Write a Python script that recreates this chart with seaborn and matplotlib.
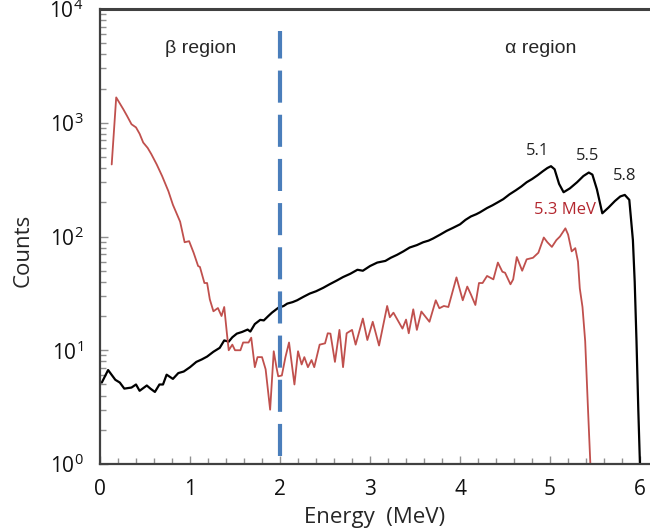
import matplotlib
matplotlib.use("Agg")
import matplotlib.pyplot as plt
import seaborn as sns
import pandas as pd
from matplotlib.ticker import LogLocator, FixedLocator, MultipleLocator

sns.set_style("ticks")
plt.rcParams['font.family'] = ['Open Sans', 'DejaVu Sans']
plt.rcParams['mathtext.fontset'] = 'custom'
plt.rcParams['mathtext.rm'] = 'Open Sans'
plt.rcParams['mathtext.it'] = 'Open Sans:italic'

# ---- data ----
black_energy = [0.02, 0.09, 0.17, 0.22, 0.27, 0.35, 0.40, 0.44, 0.52, 0.56, 0.61, 0.66, 0.70,
                0.74, 0.81, 0.87, 0.93, 1.00, 1.07, 1.13, 1.19, 1.26, 1.33, 1.38, 1.43, 1.47,
                1.52, 1.58, 1.64, 1.67, 1.72, 1.78, 1.82, 1.87, 1.91, 1.98, 2.04, 2.08, 2.14,
                2.19, 2.26, 2.33, 2.40, 2.48, 2.55, 2.63, 2.70, 2.78, 2.86, 2.92, 3.00, 3.08,
                3.17, 3.23, 3.30, 3.37, 3.44, 3.52, 3.59, 3.65, 3.70, 3.78, 3.85, 3.92, 4.00,
                4.06, 4.12, 4.18, 4.22, 4.30, 4.36, 4.42, 4.48, 4.55, 4.62, 4.68, 4.74, 4.80,
                4.86, 4.92, 4.97, 5.01, 5.05, 5.10, 5.15, 5.22, 5.30, 5.37, 5.43, 5.47, 5.52,
                5.58, 5.65, 5.72, 5.78, 5.83, 5.88, 5.92, 5.94, 5.96, 5.98, 6.00]
black_counts = [5.2, 6.7, 5.5, 5.2, 4.6, 4.7, 5.0, 4.4, 4.9, 4.6, 4.3, 5.0, 5.0,
                6.1, 5.6, 6.3, 6.5, 7.1, 7.9, 8.3, 8.8, 9.7, 10.5, 12.2, 11.9, 13.0,
                14.0, 14.5, 15.2, 14.6, 17.0, 18.5, 18.3, 20.0, 21.4, 23.6, 24.5, 25.7, 26.5,
                27.5, 29.5, 31.5, 33.0, 35.4, 38.0, 41.0, 44.0, 47.0, 51.0, 50.0, 55.0, 59.0,
                61.0, 65.0, 69.0, 74.0, 80.0, 84.0, 89.0, 92.0, 96.0, 104, 112, 119, 128,
                140, 150, 157, 163, 178, 188, 200, 213, 235, 255, 275, 300, 320,
                345, 375, 400, 415, 390, 290, 245, 265, 300, 340, 365, 350, 260,
                160, 180, 205, 225, 232, 210, 93, 40, 12, 3, 0.9]

red_energy = [0.13, 0.18, 0.26, 0.30, 0.35, 0.40, 0.44, 0.48, 0.53, 0.57, 0.63, 0.69, 0.76,
              0.81, 0.89, 0.94, 0.99, 1.04, 1.09, 1.11, 1.16, 1.19, 1.22, 1.26, 1.31, 1.35,
              1.38, 1.41, 1.43, 1.47, 1.50, 1.56, 1.59, 1.65, 1.68, 1.72, 1.75, 1.80, 1.84,
              1.89, 1.93, 1.96, 1.98, 2.02, 2.06, 2.10, 2.16, 2.20, 2.24, 2.27, 2.31, 2.35,
              2.38, 2.44, 2.50, 2.53, 2.56, 2.61, 2.66, 2.70, 2.74, 2.80, 2.84, 2.92, 2.97,
              3.03, 3.10, 3.19, 3.22, 3.26, 3.36, 3.40, 3.43, 3.48, 3.52, 3.57, 3.66, 3.73,
              3.77, 3.82, 3.87, 3.96, 4.03, 4.08, 4.12, 4.17, 4.21, 4.25, 4.30, 4.37, 4.42,
              4.47, 4.50, 4.56, 4.59, 4.63, 4.69, 4.74, 4.81, 4.87, 4.93, 4.97, 5.02, 5.07,
              5.11, 5.17, 5.20, 5.24, 5.28, 5.31, 5.33, 5.36, 5.39, 5.42, 5.45]
red_counts = [430, 1670, 1310, 1150, 970, 910, 800, 670, 600, 530, 430, 340, 250,
              190, 135, 89, 91, 72, 55, 54, 39, 39, 28, 22, 23.5, 20,
              24, 14, 10, 11.2, 10, 10, 11.7, 11.7, 12.9, 7.1, 8.7, 8.7, 6.8,
              3.0, 9.8, 7.1, 5.9, 6.0, 8.7, 11.7, 5.0, 9.8, 7.5, 8.7, 7.1, 8.2,
              7.1, 11.2, 11.5, 14.1, 14.0, 7.9, 15.1, 7.1, 14.1, 15.1, 11.2, 19.0, 12.3,
              17.8, 11.0, 24.5, 19.5, 21.4, 15.5, 18.6, 14.1, 22.9, 15.1, 21.9, 17.8, 27.5,
              23.4, 24.5, 24.0, 43.7, 27.5, 36.3, 31.0, 25.0, 39.0, 39.0, 45.0, 42.0, 59.0,
              49.0, 48.0, 38.0, 42.0, 66.0, 50.0, 63.0, 65.0, 72.0, 98.0, 89.0, 81.0, 93.0,
              100, 118, 104, 74, 79, 60, 35, 24, 12, 3.2, 0.9]

boundary_energy = 2.0
region_labels = ["β region", "α region"]
black_peaks = ["5.1", "5.5", "5.8"]
red_peak_label = "5.3 MeV"
x_ticks = [0, 1, 2, 3, 4, 5, 6]

black_df = pd.DataFrame({"Energy": black_energy, "Counts": black_counts})
red_df = pd.DataFrame({"Energy": red_energy, "Counts": red_counts})

fig = plt.figure(figsize=(6.5, 5.31), dpi=100)
ax = fig.add_axes([100/650, 1 - 464/531, 550/650, (464 - 9)/531])

sns.lineplot(data=black_df, x="Energy", y="Counts", color="black", lw=1.6,
             sort=False, estimator=None, ax=ax)
sns.lineplot(data=red_df, x="Energy", y="Counts", color="#c0504d", lw=1.3,
             sort=False, estimator=None, ax=ax)

ax.set_yscale("log")
ax.set_ylim(1, 1e4)
ax.set_xlim(0, 6.11)

ax.axvline(boundary_energy, ymin=0.018, ymax=0.952, color="#4a7ebb", lw=3,
           dashes=(7.7, 2.9))

# spines
for s in ["left", "bottom"]:
    ax.spines[s].set_color("#404040")
    ax.spines[s].set_linewidth(1.6)
ax.spines["top"].set_color("#404040")
ax.spines["top"].set_linewidth(2.2)
ax.spines["right"].set_visible(False)

ax.xaxis.set_major_locator(FixedLocator(x_ticks))
ax.xaxis.set_minor_locator(MultipleLocator(0.2))
ax.yaxis.set_major_locator(LogLocator(base=10, numticks=10))
ax.yaxis.set_minor_locator(LogLocator(base=10, subs=range(2, 10), numticks=20))
ax.tick_params(axis="both", which="major", direction="in", length=6, width=1,
               color="#909090", labelsize=15, labelcolor="#111111")
ax.tick_params(axis="both", which="minor", direction="in", length=4, width=1,
               color="#909090")
ax.tick_params(axis="x", which="major", pad=11)
ax.tick_params(axis="y", which="major", pad=12)
ax.tick_params(top=False, right=False, which="both")

ax.set_xlabel("Energy  (MeV)", fontsize=16)
ax.set_ylabel("Counts", fontsize=16)
ax.xaxis.set_label_coords(0.5, -0.095)
ax.yaxis.set_label_coords(-0.12, 0.47)

# annotations
ax.text(1.12, 4500, region_labels[0], fontsize=14, family=["Liberation Sans"],
        ha="center", va="center")
ax.text(4.9, 4500, region_labels[1], fontsize=14, family=["Liberation Sans"],
        ha="center", va="center")
ax.text(4.86, 560, black_peaks[0], fontsize=12, color="#222222", ha="center", va="center")
ax.text(5.42, 510, black_peaks[1], fontsize=12, color="#222222", ha="center", va="center")
ax.text(5.83, 340, black_peaks[2], fontsize=12, color="#222222", ha="center", va="center")
ax.text(5.17, 170, red_peak_label, fontsize=12, color="#b3262e", ha="center", va="center")

fig.savefig("out.png", dpi=100)
